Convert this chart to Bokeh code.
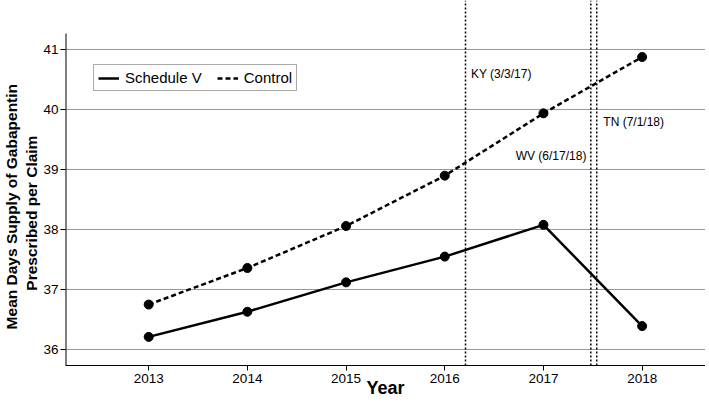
from bokeh.plotting import figure
from bokeh.models import FixedTicker, Range1d, Label, ColumnDataSource
from bokeh.embed import file_html
from bokeh.resources import INLINE

# ---- data ----
years = [2013, 2014, 2015, 2016, 2017, 2018]
schedule_v = [36.21, 36.63, 37.12, 37.55, 38.08, 36.39]
control = [36.75, 37.36, 38.06, 38.90, 39.94, 40.88]
x_ticks = [2013, 2014, 2015, 2016, 2017, 2018]
y_ticks = [36, 37, 38, 39, 40, 41]
event_x = [2016.21, 2017.48, 2017.54]
event_labels = ["KY (3/3/17)", "WV (6/17/18)", "TN (7/1/18)"]

# ---- layout constants (positions, not data) ----
X_START, X_END = 2012.157, 2018.642
Y_START, Y_END = 35.733, 41.8225
AXIS_TOP = 41.272
label_pos = [(2016.265, 40.60, "left"), (2017.435, 39.235, "right"), (2017.607, 39.79, "left")]

FONT = "Liberation Sans"
NB = "\u00a0"

p = figure(width=705, height=402, output_backend="svg", toolbar_location=None,
           x_range=Range1d(X_START, X_END), y_range=Range1d(Y_START, Y_END),
           min_border_left=64, min_border_right=0, min_border_top=0, min_border_bottom=37)
p.outline_line_color = None
p.background_fill_color = "white"
p.border_fill_color = "white"

# grid
p.xgrid.grid_line_color = None
p.ygrid.grid_line_color = "#999999"
p.ygrid.grid_line_width = 1.2
p.ygrid.ticker = FixedTicker(ticks=y_ticks)

# x axis
xa = p.xaxis[0]
xa.ticker = FixedTicker(ticks=x_ticks)
xa.minor_tick_line_color = None
xa.major_tick_in = 0
xa.major_tick_out = 5
xa.axis_line_color = "black"
xa.major_tick_line_color = "black"
xa.major_label_text_font = FONT
xa.major_label_text_font_size = "13.5px"
xa.major_label_text_color = "black"
xa.major_label_standoff = 3
xa.axis_label = "Year"
xa.axis_label_text_font = FONT
xa.axis_label_text_font_size = "18px"
xa.axis_label_text_font_style = "bold"
xa.axis_label_text_color = "black"
xa.axis_label_standoff = -8

# y axis
ya = p.yaxis[0]
ya.ticker = FixedTicker(ticks=y_ticks)
ya.minor_tick_line_color = None
ya.major_tick_in = 0
ya.major_tick_out = 5
ya.axis_line_color = None
ya.major_tick_line_color = "black"
ya.major_label_text_font = FONT
ya.major_label_text_font_size = "13.5px"
ya.major_label_text_color = "black"
ya.major_label_standoff = 2
ya.axis_label = "Mean Days Supply of Gabapentin" + NB * 11 + "\n" + "Prescribed per Claim" + NB * 14
ya.axis_label_text_font = FONT
ya.axis_label_text_font_size = "15.5px"
ya.axis_label_text_font_style = "bold"
ya.axis_label_text_color = "black"
ya.axis_label_text_line_height = 1.2
ya.axis_label_standoff = 0

# partial y axis line
p.segment(x0=[X_START], y0=[Y_START], x1=[X_START], y1=[AXIS_TOP], line_color="black", line_width=2)

# event lines
ev = ColumnDataSource(dict(x=event_x, y0=[Y_START] * len(event_x), y1=[Y_END] * len(event_x)))
p.segment(x0="x", y0="y0", x1="x", y1="y1", source=ev, line_color="black", line_width=1.5, line_dash="2 2")

for (lx, ly, al), txt in zip(label_pos, event_labels):
    p.add_layout(Label(x=lx, y=ly, text=txt, text_align=al, text_baseline="middle",
                       text_font=FONT, text_font_size="12px", text_color="black"))

# series
p.line(years, schedule_v, line_color="black", line_width=2.5, legend_label="Schedule V")
p.scatter(years, schedule_v, size=9, color="black")
p.line(years, control, line_color="black", line_width=2.5, line_dash="5 3", legend_label="Control")
p.scatter(years, control, size=9, color="black")

lg = p.legend[0]
lg.orientation = "horizontal"
lg.location = (28, 274)
lg.glyph_width = 21
lg.glyph_height = 16
lg.label_height = 16
lg.label_standoff = 6
lg.spacing = 15
lg.padding = 4
lg.margin = 0
lg.border_line_color = "#555555"
lg.border_line_width = 1
lg.background_fill_alpha = 1
lg.label_text_font = FONT
lg.label_text_font_size = "15px"
lg.label_text_color = "black"

open("out.html", "w").write(file_html(p, INLINE))
